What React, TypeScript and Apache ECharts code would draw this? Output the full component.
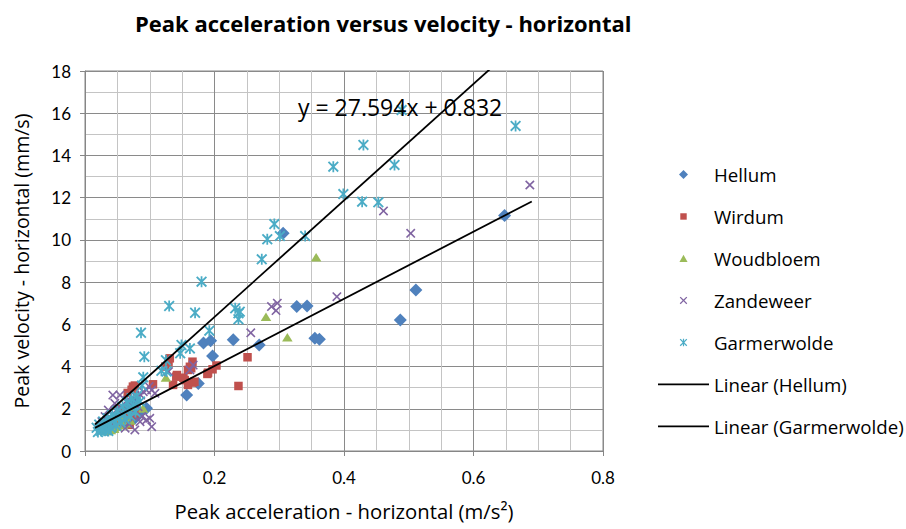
import React, { useEffect, useRef } from "react";
import * as echarts from "echarts";

// ---------- data (x: peak acceleration m/s², y: peak velocity mm/s) ----------
const seriesNames = ["Hellum", "Wirdum", "Woudbloem", "Zandeweer", "Garmerwolde"];
const trendNames = ["Linear (Hellum)", "Linear (Garmerwolde)"];

const hellum: number[][] = [
  [0.648, 11.15], [0.511, 7.63], [0.487, 6.21], [0.306, 10.31], [0.327, 6.85],
  [0.343, 6.87], [0.355, 5.34], [0.362, 5.29], [0.269, 5.02], [0.229, 5.27],
  [0.183, 5.12], [0.194, 5.22], [0.197, 4.5], [0.175, 3.2], [0.157, 2.65],
  [0.095, 2.02], [0.056, 1.39], [0.077, 1.55], [0.03, 1.1], [0.04, 1.3],
  [0.045, 1.5], [0.05, 1.7], [0.06, 1.9], [0.065, 2.1], [0.07, 1.6],
  [0.075, 2.3], [0.085, 1.8], [0.05, 1.2], [0.035, 1.0], [0.025, 1.15],
];

const wirdum: number[][] = [
  [0.251, 4.44], [0.203, 4.05], [0.197, 3.87], [0.189, 3.65], [0.237, 3.08],
  [0.166, 3.24], [0.136, 3.13], [0.131, 4.39], [0.124, 4.0], [0.129, 4.23],
  [0.141, 3.52], [0.154, 3.36], [0.164, 3.92], [0.169, 3.28], [0.159, 3.13],
  [0.105, 3.16], [0.074, 3.05], [0.0715, 1.63], [0.069, 1.24], [0.078, 1.78],
  [0.166, 4.23], [0.19, 3.71], [0.142, 3.6], [0.152, 3.47], [0.162, 3.99],
  [0.159, 3.84], [0.066, 2.75], [0.072, 2.9], [0.077, 3.1], [0.064, 1.31],
  [0.05, 1.3], [0.06, 1.6], [0.055, 2.0], [0.045, 1.1], [0.04, 1.5],
];

const woudbloem: number[][] = [
  [0.357, 9.18], [0.2795, 6.36], [0.3125, 5.39], [0.125, 3.48], [0.0896, 2.02],
  [0.066, 1.31], [0.0355, 0.95], [0.026, 1.0], [0.059, 1.23], [0.03, 1.0],
  [0.045, 1.05], [0.05, 1.15], [0.07, 1.45], [0.055, 1.6], [0.075, 1.9],
  [0.04, 1.0],
];

const zandeweer: number[][] = [
  [0.687, 12.6], [0.503, 10.31], [0.461, 11.37], [0.389, 7.31], [0.288, 6.84],
  [0.297, 7.0], [0.295, 6.65], [0.256, 5.6], [0.129, 3.76], [0.162, 3.84],
  [0.167, 4.07], [0.099, 3.05], [0.095, 2.89], [0.08, 2.57], [0.1, 1.55],
  [0.085, 1.39], [0.054, 2.65], [0.046, 2.26], [0.077, 2.65], [0.09, 2.81],
  [0.103, 2.89], [0.082, 2.1], [0.0875, 1.63], [0.095, 1.47], [0.067, 1.31],
  [0.036, 1.94], [0.031, 1.63], [0.026, 1.39], [0.04, 1.3], [0.057, 1.79],
  [0.072, 1.79], [0.062, 1.08], [0.077, 1.0], [0.103, 1.15], [0.043, 2.65],
  [0.065, 2.4], [0.05, 2.0], [0.108, 2.73], [0.086, 2.65],
];

const garmerwolde: number[][] = [
  [0.489, 16.15], [0.665, 15.4], [0.43, 14.5], [0.3835, 13.47], [0.478, 13.55],
  [0.399, 12.17], [0.428, 11.81], [0.453, 11.78], [0.2924, 10.75], [0.2815, 10.03],
  [0.301, 10.18], [0.34, 10.18], [0.273, 9.08], [0.239, 6.6], [0.18, 8.02],
  [0.232, 6.76], [0.237, 6.52], [0.237, 6.24], [0.192, 5.7], [0.13, 6.87],
  [0.17, 6.55], [0.0865, 5.6], [0.0916, 4.47], [0.149, 5.02], [0.162, 4.86],
  [0.147, 4.63], [0.09, 3.49], [0.118, 3.8], [0.126, 3.76], [0.125, 4.3],
  [0.018, 1.1], [0.022, 1.25], [0.025, 0.95], [0.028, 1.4], [0.03, 1.15],
  [0.033, 1.0], [0.035, 1.55], [0.038, 1.3], [0.04, 1.1], [0.042, 1.7],
  [0.045, 1.45], [0.048, 1.2], [0.05, 1.9], [0.052, 1.6], [0.055, 1.35],
  [0.058, 2.1], [0.06, 1.75], [0.062, 1.5], [0.065, 2.3], [0.068, 1.95],
  [0.07, 1.65], [0.072, 2.5], [0.075, 2.15], [0.078, 1.85], [0.08, 2.6],
  [0.085, 2.35], [0.088, 3.1], [0.02, 0.9], [0.026, 1.05], [0.036, 0.95],
];

// trendlines: [slope, intercept], drawn over x range
const hellumFit = [15.9, 0.85];
const garmerwoldeFit = [27.594, 0.832];
const trendRange = [0.0154, 0.69];
const equationLabel = "y = 27.594x + 0.832";

const xTicks = { min: 0, max: 0.8, interval: 0.2 };
const yTicks = { min: 0, max: 18, interval: 2 };

const colors = ["#4F81BD", "#C0504D", "#9BBB59", "#8064A2", "#4BACC6"];
const X_PATH = "M1.2,0L5,3.8L8.8,0L10,1.2L6.2,5L10,8.8L8.8,10L5,6.2L1.2,10L0,8.8L3.8,5L0,1.2Z";
const STAR_PATH =
  "M1.2,0L4.2,3V0H5.8V3L8.8,0L10,1.2L6.2,5L10,8.8L8.8,10L5.8,7V10H4.2V7L1.2,10L0,8.8L3.8,5L0,1.2Z";
const symbols = [
  "path://M5,0L10,5L5,10L0,5Z",
  "path://M0,0H10V10H0Z",
  "path://M5,0L10,9L0,9Z",
  "path://" + X_PATH,
  "path://" + STAR_PATH,
];
const symbolSizes = [13, 8.5, [10.5, 9.5], 9.5, 11];
const legendSymbols = [
  "path://M5,0L10,5L5,10L0,5Z",
  "path://M-2,-2M0,0H10V10H0ZM12,12",
  "path://M-1,-1M5,0L10,9L0,9ZM11,10",
  "path://M-1,-1M" + X_PATH.slice(1) + "M11,11",
  "path://M-1,-1M" + STAR_PATH.slice(1) + "M11,11",
];
const lineIcon = "path://M0,0H51V1.8H0Z";

const FONT = "Open Sans";
const TICK_FONT = "Lato";

export default function App() {
  const ref = useRef<HTMLDivElement>(null);
  useEffect(() => {
    const chart = echarts.init(ref.current!, null, { renderer: "svg" });
    const datasets = [hellum, wirdum, woudbloem, zandeweer, garmerwolde];
    const fitLine = (fit: number[]) =>
      trendRange.map((x) => [x, fit[0] * x + fit[1]]);

    const scatterSeries = datasets.map((d, i) => ({
      name: seriesNames[i],
      type: "scatter",
      data: d,
      symbol: symbols[i],
      symbolSize: symbolSizes[i],
      symbolKeepAspect: true,
      itemStyle: { color: colors[i], opacity: 1 },
      z: 2 + i,
    }));
    const lineSeries = [hellumFit, garmerwoldeFit].map((f, i) => ({
      name: trendNames[i],
      type: "line",
      data: fitLine(f),
      symbol: "none",
      clip: true,
      lineStyle: { color: "#000", width: 1.8 },
      itemStyle: { color: "#000" },
      z: 10,
    }));

    chart.setOption({
      animation: false,
      backgroundColor: "#fff",
      textStyle: { fontFamily: FONT },
      title: {
        text: "Peak acceleration versus velocity - horizontal",
        left: 130,
        top: 7,
        textStyle: { fontFamily: FONT, fontWeight: "bold", fontSize: 22, color: "#000" },
      },
      grid: {
        left: 85, top: 71, width: 518, height: 380,
        show: true, borderColor: "#868686", borderWidth: 1,
      },
      legend: {
        orient: "vertical",
        left: 653,
        top: 160,
        itemWidth: 51,
        itemHeight: 9,
        itemGap: 22.97,
        symbolKeepAspect: true,
        textStyle: { fontFamily: FONT, fontSize: 18.7, color: "#000" },
        data: [
          ...seriesNames.map((n, i) => ({ name: n, icon: legendSymbols[i], itemStyle: { color: colors[i] } })),
          ...trendNames.map((n) => ({ name: n, icon: lineIcon, itemStyle: { color: "#000" } })),
        ],
      },
      xAxis: {
        type: "value",
        min: xTicks.min, max: xTicks.max, interval: xTicks.interval,
        name: "Peak acceleration - horizontal (m/s²)",
        nameLocation: "middle",
        nameGap: 50,
        nameTextStyle: { fontFamily: FONT, fontSize: 20.3, color: "#000" },
        axisLine: { show: true, onZero: false, lineStyle: { color: "#868686" } },
        axisTick: { show: true, length: 5, lineStyle: { color: "#868686" } },
        axisLabel: { fontFamily: TICK_FONT, fontSize: 17, color: "#000", margin: 18 },
        splitLine: { show: true, lineStyle: { color: "#8a8a8a", width: 1 } },
        minorTick: { show: false, splitNumber: 4 },
        minorSplitLine: { show: true, lineStyle: { color: "#c4c4c4", width: 1 } },
      },
      yAxis: {
        type: "value",
        min: yTicks.min, max: yTicks.max, interval: yTicks.interval,
        name: "Peak velocity - horizontal (mm/s)",
        nameLocation: "middle",
        nameGap: 54,
        nameTextStyle: { fontFamily: FONT, fontSize: 19.5, color: "#000" },
        axisLine: { show: true, onZero: false, lineStyle: { color: "#868686" } },
        axisTick: { show: true, length: 5, lineStyle: { color: "#868686" } },
        axisLabel: { fontFamily: TICK_FONT, fontSize: 17, color: "#000", margin: 14 },
        splitLine: { show: true, lineStyle: { color: "#8a8a8a", width: 1 } },
        minorTick: { show: false, splitNumber: 2 },
        minorSplitLine: { show: true, lineStyle: { color: "#c4c4c4", width: 1 } },
      },
      graphic: [
        {
          type: "text",
          left: 298,
          top: 95,
          z: 20,
          style: { text: equationLabel, fontFamily: FONT, fontSize: 23, fill: "#000" },
        },
      ],
      series: [...scatterSeries, ...lineSeries],
    });
    return () => chart.dispose();
  }, []);
  return <div ref={ref} style={{ position: "absolute", left: 0, top: 0, width: 906, height: 529 }} />;
}
